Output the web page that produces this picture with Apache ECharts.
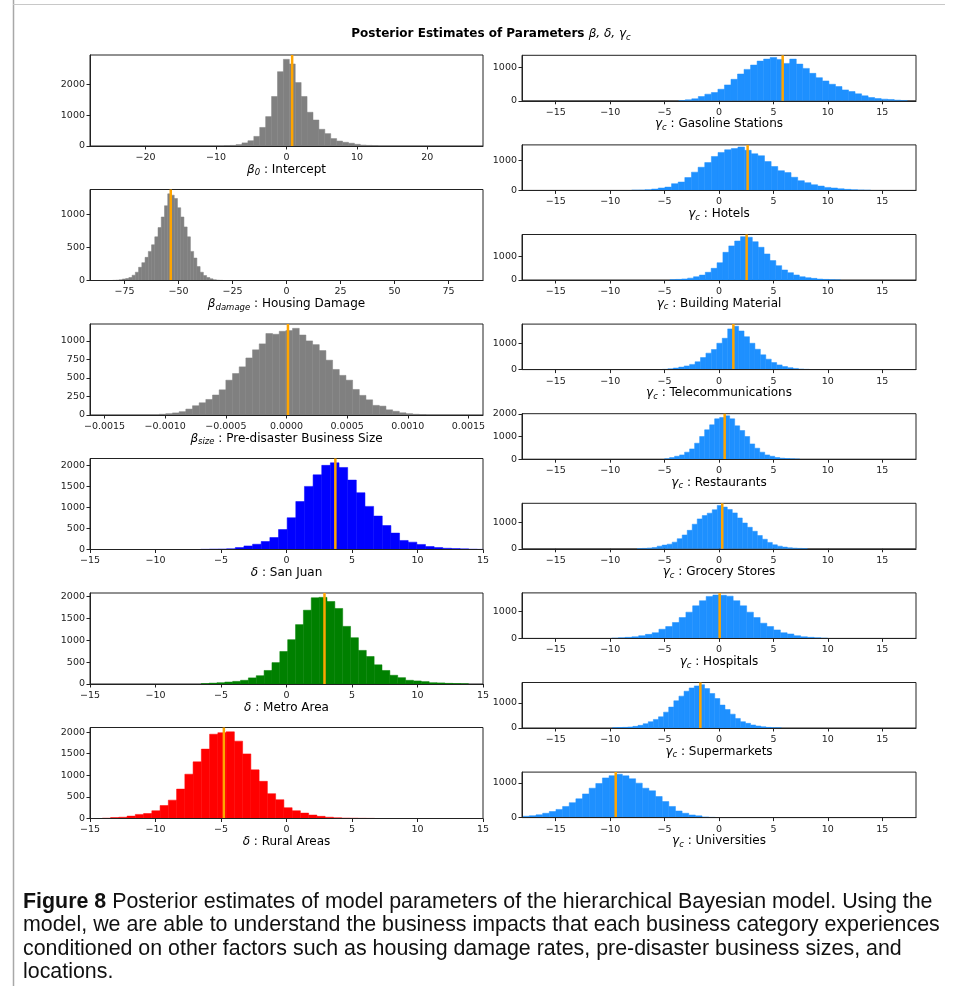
<!DOCTYPE html>
<html><head><meta charset="utf-8">
<script src="https://cdn.jsdelivr.net/npm/echarts@6/dist/echarts.min.js"></script>
<style>html,body{margin:0;padding:0;background:#fff;}#c{width:955px;height:986px;}</style>
</head><body><div id="c"></div>
<script>
// ---------- DATA ----------
const countsIntercept = [10,20,45,100,170,310,600,950,1600,2400,2800,2650,2050,1600,1090,840,540,400,240,160,120,90,55,30,20,10];
const countsHousingDamage = [3,6,12,22,30,45,80,125,200,270,350,440,540,660,800,960,1130,1310,1290,1240,1100,960,810,660,440,340,210,125,75,45,25,12,6,3];
const countsBusinessSize = [10,18,28,45,80,125,165,210,270,340,470,560,650,770,880,960,1100,1090,1130,1140,1170,1080,1000,950,870,740,615,535,470,345,265,205,130,120,70,50,30,18,10,5];
const countsSanJuan = [5,10,12,18,45,85,125,190,285,475,755,1140,1500,1775,2000,2060,1950,1650,1350,1025,795,570,390,215,175,120,70,45,30,22,15,8,4];
const countsMetroArea = [8,20,30,45,60,85,140,190,310,490,745,1015,1360,1690,1975,1985,1890,1730,1320,1060,770,630,440,310,200,145,85,70,55,30,25,15,10,5];
const countsRuralAreas = [8,22,30,55,95,115,180,300,425,680,1025,1310,1605,1950,1985,2005,1790,1495,1125,860,575,435,250,180,125,80,50,30,18,10,8,5,3];
const countsGasoline = [10,30,60,130,200,250,350,480,650,810,950,1080,1200,1260,1310,1250,1130,1260,1110,980,830,700,600,500,430,330,280,210,150,100,70,50,40,20,10];
const countsHotels = [10,12,25,45,80,110,225,280,430,610,775,930,1135,1270,1360,1400,1450,1340,1225,1160,965,800,660,595,440,325,260,190,145,100,80,55,35,25,15,8];
const countsBuildingMaterial = [15,25,45,80,140,210,330,500,740,1185,1460,1670,1855,1830,1640,1400,1115,830,615,430,315,215,140,100,70,40,25,12,5];
const countsTelecom = [10,30,60,95,140,200,300,460,630,770,1010,1200,1560,1660,1480,1260,1010,780,565,400,270,180,115,75,45,22,10];
const countsRestaurants = [15,70,130,190,310,455,705,1000,1295,1515,1780,1840,1910,1780,1470,1265,1000,675,485,310,190,130,75,45,30,15,8];
const countsGrocery = [8,15,30,50,100,140,175,250,380,520,695,925,1125,1250,1340,1470,1630,1570,1480,1350,1160,970,810,660,500,360,240,150,100,65,40,25,15,8];
const countsHospitals = [10,25,40,60,100,150,210,340,440,590,775,975,1210,1400,1560,1610,1600,1570,1400,1210,975,775,565,440,315,210,165,100,60,40,25,10];
const countsSupermarkets = [10,20,25,40,65,105,170,250,340,445,630,830,1080,1265,1460,1590,1670,1720,1565,1370,1170,910,735,550,380,250,185,120,80,50,25,10,5];
const countsUniversities = [40,55,80,125,175,235,320,430,540,680,845,980,1140,1205,1245,1200,1115,990,845,770,605,460,320,190,125,75,50,20,8];

const binStarts = [-8.84,-80.5,-0.00105,-6.55,-6.51,-14.06,-3.7,-8.02,-4.5,-5.2,-5.0,-7.52,-9.86,-9.79,-18.03];
const binWidths = [0.84,1.5,0.000055,0.66,0.6,0.63,0.6,0.61,0.54,0.5,0.46,0.46,0.62,0.47,0.61];
const posteriorMeans = [0.8,-53.6,0.000012,3.73,2.9,-4.78,5.85,2.63,2.54,1.32,0.52,0.3,0.06,-1.71,-9.49];

const xTicksIntercept = [-20,-10,0,10,20];
const xTicksHousing = [-75,-50,-25,0,25,50,75];
const xTicksSize = [-0.0015,-0.001,-0.0005,0,0.0005,0.001,0.0015];
const xTicksDelta = [-15,-10,-5,0,5,10,15];
const xTicksGamma = [-15,-10,-5,0,5,10,15];
const yTicksIntercept = [0,1000,2000];
const yTicksHousing = [0,500,1000];
const yTicksSize = [0,250,500,750,1000];
const yTicksDelta = [0,500,1000,1500,2000];
const yTicksGamma = [0,1000];
const yTicksRestaurants = [0,1000,2000];

const xRanges = [[-27.9,27.9],[-91,91],[-0.00162,0.00162],[-15,15],[-15,15],[-15,15],
  [-18.1,18.1],[-18.1,18.1],[-18.1,18.1],[-18.1,18.1],[-18.1,18.1],[-18.1,18.1],[-18.1,18.1],[-18.1,18.1],[-18.1,18.1]];

const paramSymbols = ['β','β','β','δ','δ','δ','γ','γ','γ','γ','γ','γ','γ','γ','γ'];
const paramSubs = ['0','damage','size','','','','c','c','c','c','c','c','c','c','c'];
const paramNames = ['Intercept','Housing Damage','Pre-disaster Business Size','San Juan','Metro Area','Rural Areas',
  'Gasoline Stations','Hotels','Building Material','Telecommunications','Restaurants','Grocery Stores','Hospitals','Supermarkets','Universities'];

const titleText = 'Posterior Estimates of Parameters';
const captionLines = [
  'Posterior estimates of model parameters of the hierarchical Bayesian model. Using the',
  'model, we are able to understand the business impacts that each business category experiences',
  'conditioned on other factors such as housing damage rates, pre-disaster business sizes, and',
  'locations.'
];

// ---------- BUILD ----------
const allCounts = [countsIntercept,countsHousingDamage,countsBusinessSize,countsSanJuan,countsMetroArea,countsRuralAreas,
  countsGasoline,countsHotels,countsBuildingMaterial,countsTelecom,countsRestaurants,countsGrocery,countsHospitals,countsSupermarkets,countsUniversities];
const allXTicks = [xTicksIntercept,xTicksHousing,xTicksSize,xTicksDelta,xTicksDelta,xTicksDelta,
  xTicksGamma,xTicksGamma,xTicksGamma,xTicksGamma,xTicksGamma,xTicksGamma,xTicksGamma,xTicksGamma,xTicksGamma];
const allYTicks = [yTicksIntercept,yTicksHousing,yTicksSize,yTicksDelta,yTicksDelta,yTicksDelta,
  yTicksGamma,yTicksGamma,yTicksGamma,yTicksGamma,yTicksRestaurants,yTicksGamma,yTicksGamma,yTicksGamma,yTicksGamma];
const colors = ['#808080','#808080','#808080','#0000ff','#008000','#ff0000',
  '#1e90ff','#1e90ff','#1e90ff','#1e90ff','#1e90ff','#1e90ff','#1e90ff','#1e90ff','#1e90ff'];

const FONT = 'DejaVu Sans';
const AX = '#222';
function fmtX(i){
  return function(v){
    let s = (i===2) ? Math.abs(v).toFixed(4) : String(Math.abs(Math.round(v)));
    return (v < 0 ? '\u2212' : '') + s;
  };
}
const nameRich = {
  g:{fontFamily:FONT,fontStyle:'italic',fontSize:12,color:'#000',lineHeight:16},
  s:{fontFamily:FONT,fontStyle:'italic',fontSize:8.5,color:'#000',lineHeight:10,verticalAlign:'bottom'},
  t:{fontFamily:FONT,fontSize:12,color:'#000',lineHeight:16}
};

const grids=[],xAxes=[],yAxes=[],series=[];
for(let i=0;i<15;i++){
  const left = i<6;
  const g = left ? {left:90,top:55+134.5*i,width:393,height:91}
                 : {left:522,top:55.3+89.6*(i-6),width:394,height:45.5};
  grids.push(Object.assign({show:true,borderColor:AX,borderWidth:1,backgroundColor:'transparent'},g));
  const counts = allCounts[i];
  const yMax = Math.max(...counts)*1.05;
  const nm = '{g|'+paramSymbols[i]+'}'+(paramSubs[i]?'{s|'+paramSubs[i]+'}':'')+'{t| : '+paramNames[i]+'}';
  xAxes.push({gridIndex:i,type:'value',min:xRanges[i][0],max:xRanges[i][1],z:5,
    axisLine:{show:true,onZero:false,lineStyle:{color:AX,width:1}},
    axisTick:{show:true,length:3.5,lineStyle:{color:AX},customValues:allXTicks[i]},
    axisLabel:{customValues:allXTicks[i],formatter:fmtX(i),fontFamily:FONT,fontSize:9.5,color:AX,margin:6.5,showMinLabel:true,showMaxLabel:true},
    splitLine:{show:false},
    name:nm,nameLocation:'middle',nameGap:14.5,nameTextStyle:{rich:nameRich,fontFamily:FONT,fontSize:12,color:'#000',verticalAlign:'top'}
  });
  yAxes.push({gridIndex:i,type:'value',min:0,max:yMax,z:5,
    axisLine:{show:true,onZero:false,lineStyle:{color:AX,width:1}},
    axisTick:{show:true,length:3.5,lineStyle:{color:AX},customValues:allYTicks[i]},
    axisLabel:{customValues:allYTicks[i],formatter:function(v){return String(v);},fontFamily:FONT,fontSize:9.5,color:AX,margin:5},
    splitLine:{show:false}
  });
  const st = binStarts[i], w = binWidths[i];
  const data = counts.map((c,k)=>[st+k*w, st+(k+1)*w, c]);
  const col = colors[i];
  series.push({type:'custom',xAxisIndex:i,yAxisIndex:i,clip:true,silent:true,z:2,
    encode:{x:[0,1],y:2},data:data,
    renderItem:function(params,api){
      const p0 = api.coord([api.value(0),api.value(2)]);
      const p1 = api.coord([api.value(1),0]);
      return {type:'rect',shape:{x:p0[0],y:p0[1],width:p1[0]-p0[0],height:p1[1]-p0[1]},
        style:{fill:col,stroke:col,lineWidth:0.5}};
    }
  });
  series.push({type:'line',xAxisIndex:i,yAxisIndex:i,silent:true,z:3,symbol:'none',
    data:[[posteriorMeans[i],0],[posteriorMeans[i],yMax]],
    lineStyle:{color:'#ffa500',width:2.5}});
}

const capFont = 'Liberation Sans';
const graphics = [
  {type:'line',shape:{x1:13.5,y1:0,x2:13.5,y2:986},style:{stroke:'#a8a8a8',lineWidth:1.5},silent:true},
  {type:'line',shape:{x1:13,y1:4.5,x2:945,y2:4.5},style:{stroke:'#c8c8c8',lineWidth:1},silent:true},
  {type:'text',x:491,y:34,silent:true,style:{
    text:'{b|'+titleText+' }{m|β, δ, γ}{ms|c}',
    textAlign:'center',textVerticalAlign:'middle',
    rich:{
      b:{fontFamily:FONT,fontWeight:'bold',fontSize:12,fill:'#000',lineHeight:16},
      m:{fontFamily:FONT,fontStyle:'italic',fontSize:12,fill:'#000',lineHeight:16},
      ms:{fontFamily:FONT,fontStyle:'italic',fontSize:8.5,fill:'#000',lineHeight:10,verticalAlign:'bottom'}
    }}}
];
const capY = [902,925.5,949,972.5];
captionLines.forEach((line,k)=>{
  graphics.push({type:'text',x:23,y:capY[k],silent:true,style:{
    text:(k===0?'{fb|Figure 8}{r| '+line+'}':'{r|'+line+'}'),
    textAlign:'left',textVerticalAlign:'middle',
    rich:{
      fb:{fontFamily:capFont,fontWeight:'bold',fontSize:21.4,fill:'#111'},
      r:{fontFamily:capFont,fontSize:21.4,fill:'#111'}
    }}});
});

const chart = echarts.init(document.getElementById('c'),null,{renderer:'canvas'});
chart.setOption({animation:false,backgroundColor:'#fff',grid:grids,xAxis:xAxes,yAxis:yAxes,series:series,graphic:graphics});
</script></body></html>
